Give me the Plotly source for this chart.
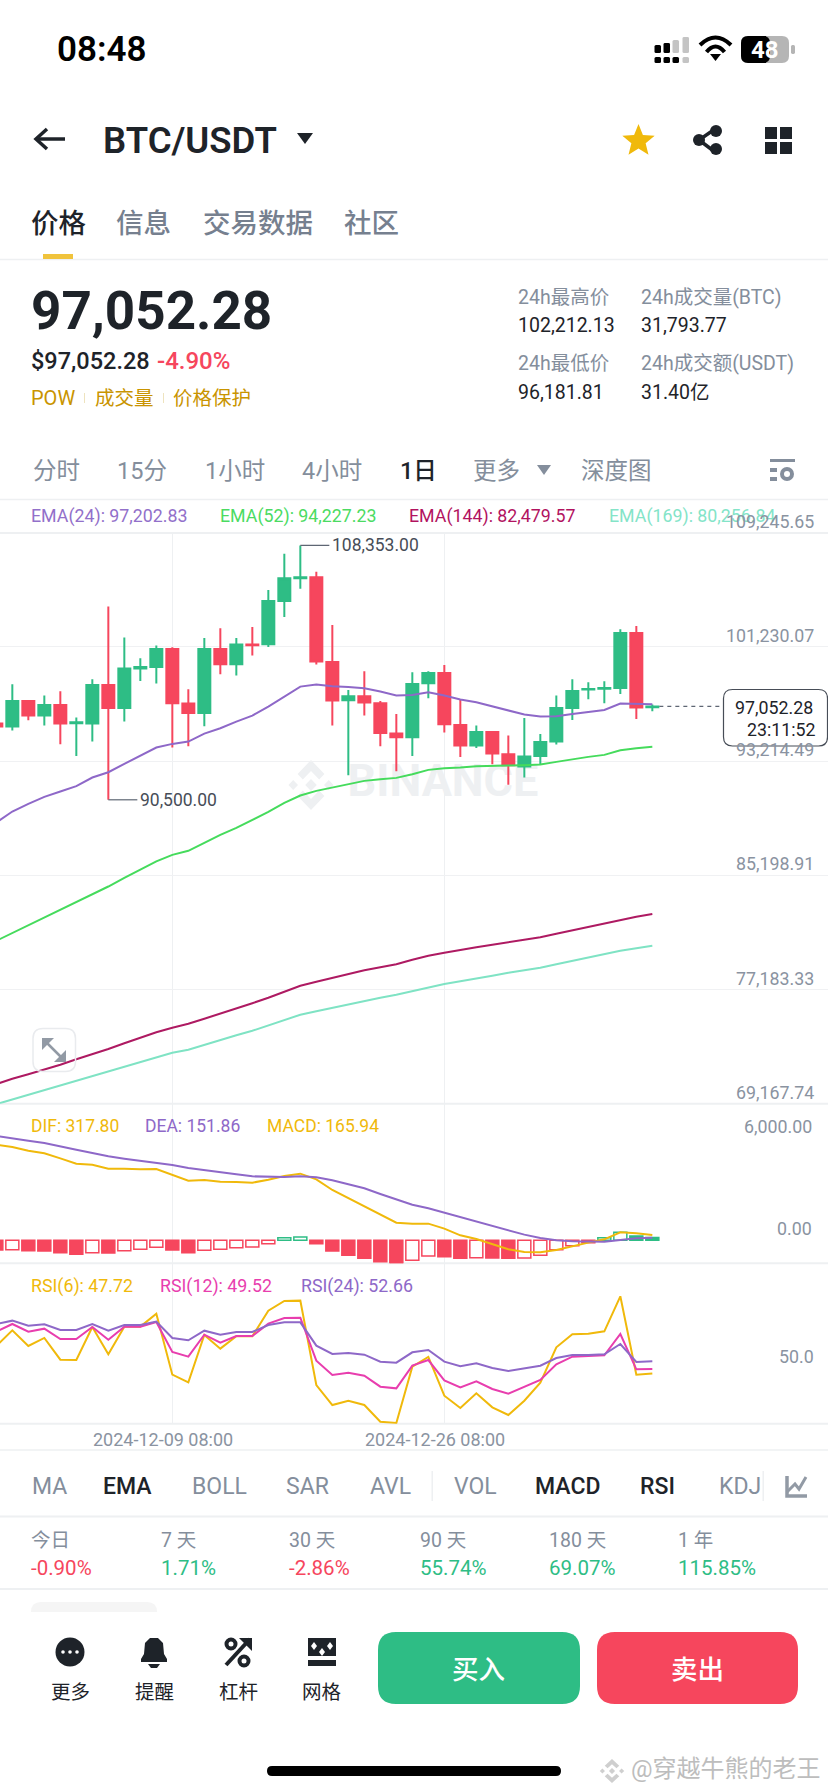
import math

import pandas as pd
import plotly.graph_objects as go

W = 828
H = 1792
FONT = "Roboto, 'Noto Sans CJK SC'"
DARK = "#1E2329"
GRAY = "#848E9C"
UP = "#2EBD85"
DOWN = "#F6465D"
YELLOW = "#F0B90B"
PURPLE = "#8E68C8"
LINE = "#EEF0F2"

dates = pd.date_range("2024-11-28 08:00", periods=42, freq="D")

opens = [95851, 95641, 97441, 96412, 97161, 95875, 95851, 98564, 96950, 99710, 99827,
         101090, 97254, 96600, 101090, 100014, 101394, 101417, 104457, 106047, 106118, 100178,
         97488, 97769, 97278, 95150, 94892, 98681, 99406, 95758, 94308, 95267, 93700,
         92834, 93583, 94588, 96950, 98240, 98300, 98354, 102212, 97000]
highs = [96000, 98611, 97441, 97816, 98120, 96272, 98962, 104060, 101885, 100435, 101324,
         101207, 98260, 101861, 102540, 101861, 102633, 105229, 107778, 108353, 106515, 102773,
         98213, 99523, 97441, 96529, 99453, 99523, 99967, 97558, 95711, 95313, 95009,
         96249, 95126, 97816, 98962, 98751, 98821, 102469, 102703, 97184]
lows = [95500, 95360, 96085, 95711, 94401, 93583, 94588, 90500, 95992, 98845, 98658,
        94167, 94261, 95664, 99312, 99219, 100622, 101230, 103335, 105323, 99991, 95711,
        92226, 96412, 94261, 92507, 93583, 97629, 95220, 93513, 94144, 92998, 91548,
        92063, 92975, 94378, 96108, 97558, 97278, 97933, 96179, 96717]
closes = [95641, 97441, 96412, 97161, 95851, 95945, 98564, 96950, 99710, 99827, 101090,
          97278, 96600, 101090, 100014, 101394, 101346, 104457, 106047, 106118, 100201, 97465,
          97769, 97325, 95196, 94892, 98634, 99406, 95804, 94308, 95267, 93746, 92928,
          93536, 94565, 96950, 98143, 98280, 98354, 102212, 96974, 97052.28]

ema24 = [88906, 89677, 90215, 90706, 91080, 91455, 92063, 92437, 93022, 93583, 94167,
         94425, 94588, 95150, 95524, 95992, 96412, 97044, 97769, 98447, 98587, 98470,
         98424, 98330, 98096, 97816, 97862, 98050, 97816, 97535, 97348, 97044, 96740,
         96483, 96342, 96366, 96529, 96693, 96810, 97254, 97231, 97202.83]
ema52 = [80604, 81144, 81691, 82231, 82778, 83319, 83866, 84413, 85024, 85585, 86181,
         86637, 86918, 87479, 88040, 88531, 89093, 89654, 90285, 90798, 91127, 91359,
         91569, 91829, 91948, 92039, 92299, 92601, 92720, 92762, 92860, 92902, 92902,
         92930, 92972, 93162, 93351, 93513, 93653, 93983, 94123, 94227.23]
ema144 = [70543, 70922, 71237, 71553, 71904, 72290, 72641, 73005, 73412, 73798, 74184,
          74500, 74780, 75131, 75482, 75833, 76219, 76605, 77025, 77446, 77727, 78008,
          78253, 78534, 78744, 78955, 79271, 79551, 79762, 79972, 80148, 80323, 80498,
          80674, 80849, 81095, 81340, 81586, 81831, 82077, 82287, 82479.57]
ema169 = [69133, 69462, 69799, 70115, 70431, 70781, 71097, 71413, 71764, 72114, 72430,
          72746, 72956, 73307, 73623, 73974, 74289, 74675, 75061, 75412, 75657, 75903,
          76149, 76394, 76605, 76815, 77061, 77341, 77566, 77762, 77938, 78148, 78358,
          78534, 78709, 78955, 79200, 79446, 79656, 79902, 80077, 80256.84]

dif = [5591, 5454, 5240, 5084, 4792, 4480, 4422, 4188, 4188, 4149, 4169,
       3838, 3487, 3526, 3428, 3409, 3370, 3545, 3760, 3896, 3565, 2941,
       2454, 2006, 1480, 1032, 974, 974, 682, 292, 78, -214, -526,
       -682, -701, -565, -331, -136, 58, 468, 409, 317.80]
dea = [6097, 5941, 5825, 5688, 5513, 5299, 5104, 4909, 4773, 4656, 4558,
       4402, 4227, 4091, 3954, 3857, 3740, 3701, 3701, 3740, 3682, 3506,
       3292, 3039, 2708, 2396, 2084, 1870, 1617, 1364, 1110, 838, 584,
       331, 136, 0, -58, -78, -78, 19, 117, 151.86]
macd = [-565, -545, -604, -623, -721, -818, -721, -740, -604, -526, -409,
        -565, -721, -584, -526, -429, -390, -195, 156, 195, -195, -623,
        -877, -1052, -1247, -1383, -1169, -916, -955, -1052, -1013, -1032, -1052,
        -1032, -877, -545, -312, -136, 156, 468, 253, 165.94]

rsi6 = [58.98, 65.43, 58.98, 62.28, 53.36, 53.22, 66.8, 55.56, 66.94, 66.94, 72.29,
        47.19, 44.03, 63.51, 57.89, 62.96, 62.96, 73.53, 77.5, 77.64, 42.94, 34.71,
        36.49, 34.71, 27.85, 27.3, 50.48, 54.46, 38.55, 33.47, 39.51, 33.74, 30.59,
        36.49, 43.9, 58.44, 63.79, 64.06, 65.02, 79.42, 47.19, 47.72]
rsi12 = [64.88, 68.04, 64.88, 66.12, 61.87, 61.87, 66.8, 61.59, 66.94, 66.94, 68.86,
         56.52, 54.6, 63.65, 60.36, 63.1, 63.1, 68.18, 70.51, 70.64, 52.95, 47.05,
         48.01, 46.78, 42.25, 41.56, 50.89, 53.22, 44.86, 41.98, 44.44, 41.29, 39.37,
         42.11, 44.99, 51.44, 54.6, 54.87, 55.14, 63.92, 49.38, 49.52]
rsi24 = [68.04, 69.41, 67.35, 67.9, 65.57, 65.57, 68.04, 65.29, 67.63, 67.63, 69.0,
         62.28, 61.32, 65.29, 63.65, 64.75, 64.75, 67.63, 68.72, 68.72, 59.12, 55.69,
         56.1, 55.42, 52.54, 52.13, 56.38, 57.34, 52.54, 50.62, 51.85, 49.93, 48.7,
         49.79, 50.89, 54.05, 55.28, 55.28, 55.56, 59.81, 52.4, 52.66]

price_ticks = [109245.65, 101230.07, 93214.49, 85198.91, 77183.33, 69167.74]
macd_ticks = [6000, 0]
rsi_ticks = [50]
period_names = ["今日", "7 天", "30 天", "90 天", "180 天", "1 年"]
period_values = [-0.90, 1.71, -2.86, 55.74, 69.07, 115.85]
period_x = [31, 161, 289, 420, 549, 678]


def fx(x):
    return x / W


def fy(y):
    return 1 - y / H


annotations = []
shapes = []


def txt(s, x, y, size, color=DARK, anchor="left", weight=400):
    annotations.append(dict(
        text=s, xref="paper", yref="paper", x=fx(x), y=fy(y),
        xanchor=anchor, yanchor="middle", showarrow=False, borderpad=0, borderwidth=0,
        font=dict(family=FONT, size=size, color=color, weight=weight),
    ))


def poly(points, close=True):
    d = "M" + " L".join(f"{fx(x):.5f},{fy(y):.5f}" for x, y in points)
    return d + (" Z" if close else "")


def fill_shape(d, color, layer="above"):
    shapes.append(dict(type="path", path=d, xref="paper", yref="paper", fillcolor=color,
                       line=dict(width=0), layer=layer))


def stroke_shape(d, color, width):
    shapes.append(dict(type="path", path=d, xref="paper", yref="paper",
                       line=dict(color=color, width=width)))


def rect(x0, y0, x1, y1, color, layer="above"):
    shapes.append(dict(type="rect", xref="paper", yref="paper", x0=fx(x0), x1=fx(x1),
                       y0=fy(y0), y1=fy(y1), fillcolor=color, line=dict(width=0), layer=layer))


def hline(y, x0=0, x1=W, color=LINE, width=1.5):
    shapes.append(dict(type="line", xref="paper", yref="paper", x0=fx(x0), x1=fx(x1),
                       y0=fy(y), y1=fy(y), line=dict(color=color, width=width), layer="below"))


def round_path(x0, y0, x1, y1, r):
    p = lambda x, y: f"{fx(x):.5f},{fy(y):.5f}"
    return (f"M{p(x0 + r, y0)} L{p(x1 - r, y0)} Q{p(x1, y0)} {p(x1, y0 + r)} "
            f"L{p(x1, y1 - r)} Q{p(x1, y1)} {p(x1 - r, y1)} L{p(x0 + r, y1)} "
            f"Q{p(x0, y1)} {p(x0, y1 - r)} L{p(x0, y0 + r)} Q{p(x0, y0)} {p(x0 + r, y0)} Z")


def circle(cx, cy, r, color):
    shapes.append(dict(type="circle", xref="paper", yref="paper", x0=fx(cx - r), x1=fx(cx + r),
                       y0=fy(cy - r), y1=fy(cy + r), fillcolor=color, line=dict(width=0)))


def binance_logo(cx, cy, rx, ry, color, layer="below"):
    def pts(items):
        return [(cx + a * rx, cy + b * ry) for a, b in items]
    top = [(0, -1), (.56, -.44), (.34, -.22), (0, -.56), (-.34, -.22), (-.56, -.44)]
    fill_shape(poly(pts(top)), color, layer)
    fill_shape(poly(pts([(a, -b) for a, b in top])), color, layer)
    for c, s in ((0, .24), (-.74, .2), (.74, .2)):
        fill_shape(poly(pts([(c, -s), (c + s, 0), (c, s), (c - s, 0)])), color, layer)


# status bar
txt("08:48", 57, 49, 35, "#000000", weight=600)
for x0, top, col in ((655, 45, "#000"), (664, 43, "#000"), (673, 40, "#C4C4C4"), (683, 37, "#C4C4C4")):
    fill_shape(round_path(x0 - .5, top, x0 + 6, 53, 1.5), col)
    fill_shape(round_path(x0 - .5, 57, x0 + 6, 63, 1.5), "#C4C4C4" if x0 == 683 else "#000")
for px0, py0, px1, pc in ((700, 45, 731, 30), (706.5, 52, 724.5, 41)):
    stroke_shape(f"M{fx(px0)},{fy(py0)} Q{fx(715.5)},{fy(pc)} {fx(px1)},{fy(py0)}", "#000", 4)
fill_shape(poly([(710, 54), (721, 54), (715.5, 61)]), "#000")
fill_shape(round_path(741, 36, 789, 63, 7), "#B5B5B5")
fill_shape(round_path(741, 36, 770, 63, 7), "#000")
rect(760, 36, 766, 63, "#000")
fill_shape(round_path(791, 45, 795, 54, 1.5), "#B5B5B5")
txt("48", 765, 50, 24, "#FFFFFF", "center", 700)

# header
stroke_shape(poly([(65, 139), (37, 139)], False), DARK, 3.5)
stroke_shape(poly([(47, 129), (36, 139), (47, 149)], False), DARK, 3.5)
txt("BTC/USDT", 103, 140, 36.5, DARK, weight=600)
fill_shape(poly([(297, 133), (313, 133), (305, 144)]), DARK)
star = []
for k in range(10):
    r = 17 if k % 2 == 0 else 7.5
    a = -math.pi / 2 + k * math.pi / 5
    star.append((638.5 + r * math.cos(a), 141 + r * math.sin(a)))
fill_shape(poly(star), YELLOW)
stroke_shape(poly([(715, 129), (699, 140), (715, 152)], False), DARK, 3.5)
circle(716, 131, 6, DARK)
circle(699, 140, 6, DARK)
circle(716, 149, 6, DARK)
for x0, y0 in ((765, 127), (780, 127), (765, 142), (780, 142)):
    rect(x0, y0, x0 + 12, y0 + 12, DARK)

# tabs
txt("价格", 31, 223, 27.5, DARK, weight=500)
txt("信息", 116, 223, 27.5, "#76808F", weight=500)
txt("交易数据", 203, 223, 27.5, "#76808F", weight=500)
txt("社区", 344, 223, 27.5, "#76808F", weight=500)
rect(43, 254, 73, 259, "#F0C33C")
hline(259.5)

# price block
txt("97,052.28", 31, 311, 53, DARK, weight=700)
txt("$97,052.28", 31, 361, 23.5, DARK, weight=500)
txt("-4.90%", 157, 361, 24, DOWN, weight=500)
txt("POW", 31, 398, 20, "#C99400")
txt("成交量", 95, 398, 19.5, "#C99400")
txt("价格保护", 173, 398, 19.5, "#C99400")
rect(84, 393, 85, 403, "#EEE3BE")
rect(163, 393, 164, 403, "#EEE3BE")
txt("24h最高价", 518, 298, 19.5, GRAY)
txt("24h成交量(BTC)", 641, 298, 19.5, GRAY)
txt("102,212.13", 518, 326, 19.5, DARK)
txt("31,793.77", 641, 326, 19.5, DARK)
txt("24h最低价", 518, 363, 19.5, GRAY)
txt("24h成交额(USDT)", 641, 363, 19.5, GRAY)
txt("96,181.81", 518, 392, 19.5, DARK)
txt("31.40亿", 641, 392, 19.5, DARK)

# timeframe row
for label, x0, col in (("分时", 33, GRAY), ("15分", 117, GRAY), ("1小时", 205, GRAY), ("4小时", 302, GRAY),
                       ("1日", 400, DARK), ("更多", 473, GRAY), ("深度图", 581, GRAY)):
    txt(label, x0, 471, 23.5, col, weight=500 if col == DARK else 400)
fill_shape(poly([(537, 465), (551, 465), (544, 475)]), GRAY)
rect(770, 459, 795, 462, GRAY)
rect(770, 468, 777, 472, GRAY)
rect(770, 477, 777, 481, GRAY)
circle(787, 474, 7, GRAY)
circle(787, 474, 3, "#FFFFFF")
hline(499.5)

# chart legends
txt("EMA(24): 97,202.83", 30.5, 515.5, 17.8, "#9270CA")
txt("EMA(52): 94,227.23", 220, 515.5, 17.8, "#4BDB62")
txt("EMA(144): 82,479.57", 409, 515.5, 17.8, "#B2135F")
txt("EMA(169): 80,256.84", 609, 515.5, 17.8, "#84E4C8")
txt("DIF: 317.80", 30.5, 1125.5, 17.5, YELLOW)
txt("DEA: 151.86", 145, 1125.5, 17.5, PURPLE)
txt("MACD: 165.94", 266.5, 1125.5, 17.5, YELLOW)
txt("RSI(6): 47.72", 30.5, 1285.5, 17.8, YELLOW)
txt("RSI(12): 49.52", 160, 1285.5, 17.8, "#E83EAE")
txt("RSI(24): 52.66", 300.5, 1285.5, 17.8, PURPLE)

# pane separators
hline(533, width=2)
hline(1103.7, width=2)
hline(1263.3, width=2)
hline(1423.7, width=2)

# watermark logo sits under every pane
binance_logo(311, 785, 24, 25, "#EEF0F2")

# expand button
stroke_shape(round_path(33, 1028.5, 75.5, 1071.5, 10), "#E9EBEE", 1.5)
fill_shape(poly([(42, 1038), (54, 1038), (42, 1050)]), "#929AA5")
fill_shape(poly([(66, 1062), (54, 1062), (66, 1050)]), "#929AA5")
stroke_shape(poly([(46, 1042), (62, 1058)], False), "#929AA5", 2.5)

# axis value labels, tied to the pane scales
for v in price_ticks:
    annotations.append(dict(text=f"{v:,.2f}", xref="paper", x=fx(815), yref="y2", y=v,
                            xanchor="right", yanchor="bottom", showarrow=False, borderpad=0,
                            font=dict(family=FONT, size=17.8, color="#8A93A1")))
for v in macd_ticks:
    annotations.append(dict(text=f"{v:,.2f}", xref="paper", x=fx(813), yref="y3", y=v,
                            xanchor="right", yanchor="bottom", showarrow=False, borderpad=0,
                            font=dict(family=FONT, size=17.8, color="#8A93A1")))
for v in rsi_ticks:
    annotations.append(dict(text=f"{v:.1f}", xref="paper", x=fx(815), yref="y4", y=v,
                            xanchor="right", yanchor="bottom", showarrow=False, borderpad=0,
                            font=dict(family=FONT, size=17.8, color="#8A93A1")))

# date labels
for k in (11, 28):
    annotations.append(dict(text=dates[k].strftime("%Y-%m-%d %H:%M"), xref="x4", x=dates[k], yref="paper",
                            y=fy(1439.5), xanchor="center", yanchor="middle", xshift=-9, showarrow=False,
                            font=dict(family=FONT, size=18, color="#8A93A1")))

# high / low callouts
i_hi = highs.index(max(highs))
i_lo = lows.index(min(lows))
for i, val, length in ((i_hi, highs[i_hi], 29), (i_lo, lows[i_lo], 29)):
    shapes.append(dict(type="line", xref="x2", yref="y2", xsizemode="pixel", xanchor=dates[i],
                       x0=0, x1=length, y0=val, y1=val, line=dict(color="#5E6673", width=1.2)))
    annotations.append(dict(text=f"{val:,.2f}", xref="x2", x=dates[i], yref="y2", y=val,
                            xanchor="left", yanchor="middle", xshift=length + 1, showarrow=False,
                            font=dict(family=FONT, size=17.5, color="#474D57")))

# last price tag
shapes.append(dict(type="line", xref="x2", yref="y2", xsizemode="pixel", xanchor=dates[-1],
                   x0=7, x1=68, y0=closes[-1], y1=closes[-1],
                   line=dict(color="#5E6673", width=1.2, dash="4px,4px")))
shapes.append(dict(type="path", path=round_path(723.5, 689.5, 827.5, 746, 9), xref="paper", yref="paper",
                   fillcolor="#FFFFFF", line=dict(color="#474D57", width=1.2)))
txt(f"{closes[-1]:,.2f}", 813, 707.5, 17.8, DARK, "right")
txt("23:11:52", 816, 729, 17.8, DARK, "right")

# indicator row
for label, x0, col in (("MA", 32, GRAY), ("EMA", 103, DARK), ("BOLL", 192, GRAY), ("SAR", 286, GRAY),
                       ("AVL", 370, GRAY), ("VOL", 454, GRAY), ("MACD", 535, DARK), ("RSI", 640, DARK),
                       ("KDJ", 719, GRAY)):
    txt(label, x0, 1486.5, 23, col, weight=500 if col == DARK else 400)
rect(431.5, 1471, 433, 1501, LINE)
rect(762.5, 1471, 764, 1501, LINE)
stroke_shape(poly([(787, 1476), (787, 1496), (807, 1496)], False), "#929AA5", 3.5)
stroke_shape(poly([(787, 1492), (795, 1484), (799, 1489), (806, 1477)], False), "#929AA5", 3)
hline(1450)
hline(1516.5, width=2)

# period performance
for name, value, x0 in zip(period_names, period_values, period_x):
    txt(name, x0, 1540, 19.5, GRAY)
    txt(f"{value:.2f}%", x0, 1568, 20.5, UP if value > 0 else DOWN)
hline(1589, width=2)
fill_shape(round_path(31, 1602, 157, 1630, 10), "#F5F5F5")
rect(0, 1612, W, 1792, "#FFFFFF")

# bottom bar
circle(70, 1652, 14.5, DARK)
for dx in (-7, 0, 7):
    circle(70 + dx, 1652, 1.8, "#FFFFFF")
fill_shape(poly([(141, 1659), (144, 1654), (145, 1643), (150, 1638), (158, 1638), (163, 1643), (164, 1654),
                 (167, 1659), (167, 1662), (141, 1662)]), DARK)
fill_shape(poly([(148, 1664), (160, 1664), (157, 1668), (151, 1668)]), DARK)
stroke_shape(poly([(226, 1665), (250, 1639)], False), DARK, 4)
fill_shape(poly([(239, 1638), (252, 1638), (252, 1651)]), DARK)
for cx, cy in ((231, 1644), (244, 1661)):
    circle(cx, cy, 6.5, DARK)
    circle(cx, cy, 2.5, "#FFFFFF")
fill_shape(poly([(308, 1638), (336, 1638), (336, 1656), (308, 1656)]), DARK)
for cx, cy in ((314, 1646), (322, 1652), (330, 1646)):
    fill_shape(poly([(cx, cy - 4), (cx + 3, cy), (cx, cy + 4), (cx - 3, cy)]), "#FFFFFF")
rect(308, 1660, 336, 1666, DARK)
txt("更多", 70, 1692.5, 19.5, DARK, "center")
txt("提醒", 154, 1692.5, 19.5, DARK, "center")
txt("杠杆", 238, 1692.5, 19.5, DARK, "center")
txt("网格", 322, 1692.5, 19.5, DARK, "center")
fill_shape(round_path(378, 1632, 580, 1704, 18), UP)
fill_shape(round_path(597, 1632, 798, 1704, 18), DOWN)
txt("买入", 478, 1669, 26.5, "#FFFFFF", "center", 500)
txt("卖出", 697, 1669, 26.5, "#FFFFFF", "center", 500)
fill_shape(round_path(267, 1766, 561, 1776, 5), "#000000")
binance_logo(612, 1771, 13, 12, "#CFCFCF", "above")
txt("@穿越牛熊的老王", 631, 1769, 24, "#BDBDBD")

fig = go.Figure()

# watermark lives on the first (hidden) subplot so the panes draw over it
fig.add_trace(go.Scatter(x=[443], y=[785], mode="text", text=["BINANCE"], xaxis="x", yaxis="y",
                         textfont=dict(family=FONT, size=45, color="#EEF0F2", weight=700),
                         showlegend=False, hoverinfo="skip"))

fig.add_trace(go.Candlestick(
    x=dates, open=opens, high=highs, low=lows, close=closes, xaxis="x2", yaxis="y2",
    increasing=dict(line=dict(color=UP, width=2), fillcolor=UP),
    decreasing=dict(line=dict(color=DOWN, width=2), fillcolor=DOWN),
    whiskerwidth=0, showlegend=False,
))
for values, color in ((ema24, "#8E68C8"), (ema52, "#45DB5C"), (ema144, "#AE1A62"), (ema169, "#7FE3C4")):
    fig.add_trace(go.Scatter(x=dates, y=values, mode="lines", xaxis="x2", yaxis="y2",
                             line=dict(color=color, width=2), showlegend=False))

bar_line = [UP if v > 0 else DOWN for v in macd]
bar_fill = [c if i == 0 or macd[i] <= macd[i - 1] else "#FFFFFF" for i, c in enumerate(bar_line)]
fig.add_trace(go.Bar(x=dates, y=macd, xaxis="x3", yaxis="y3", width=13 / 16 * 86400000,
                     marker=dict(color=bar_fill, line=dict(color=bar_line, width=1.5)), showlegend=False))
fig.add_trace(go.Scatter(x=dates, y=dif, mode="lines", xaxis="x3", yaxis="y3",
                         line=dict(color=YELLOW, width=2), showlegend=False))
fig.add_trace(go.Scatter(x=dates, y=dea, mode="lines", xaxis="x3", yaxis="y3",
                         line=dict(color=PURPLE, width=2), showlegend=False))

for values, color in ((rsi6, YELLOW), (rsi12, "#E83EAE"), (rsi24, PURPLE)):
    fig.add_trace(go.Scatter(x=dates, y=values, mode="lines", xaxis="x4", yaxis="y4",
                             line=dict(color=color, width=2), showlegend=False))

# first candle after the partly hidden one sits 12.33px in, one day is 16px
start = dates[1] - pd.Timedelta(days=12.33 / 16)
end = dates[1] + pd.Timedelta(days=(W - 12.33) / 16)
grid_x = [dates[11], dates[28]]
x_common = dict(range=[start, end], type="date", showticklabels=False, ticks="", showline=False,
                zeroline=False, tickmode="array", tickvals=grid_x, showgrid=True, gridcolor="#EEF0F2",
                gridwidth=1, rangeslider=dict(visible=False), domain=[0, 1])
y_common = dict(showticklabels=False, ticks="", showline=False, zeroline=False)

fig.update_layout(
    width=W, height=H, margin=dict(l=0, r=0, t=0, b=0), autosize=False,
    paper_bgcolor="#FFFFFF", plot_bgcolor="rgba(0,0,0,0)",
    boxgap=0.25, boxgroupgap=0, boxmode="overlay", barmode="overlay",
    font=dict(family=FONT), showlegend=False, hovermode=False,
    annotations=annotations, shapes=shapes,
    xaxis=dict(range=[0, W], visible=False, domain=[0, 1], anchor="y"),
    yaxis=dict(range=[H, 0], visible=False, domain=[0, 1], anchor="x"),
    xaxis2=dict(anchor="y2", **x_common),
    yaxis2=dict(anchor="x2", domain=[fy(1103.7), fy(532.75)], range=[price_ticks[-1], price_ticks[0]],
                tickmode="array", tickvals=price_ticks, showgrid=True, gridcolor="#F0F1F3", gridwidth=1.3,
                **y_common),
    xaxis3=dict(anchor="y3", **x_common),
    yaxis3=dict(anchor="x3", domain=[fy(1263.3), fy(1103.7)], range=[-1344, 7987], showgrid=False, **y_common),
    xaxis4=dict(anchor="y4", **x_common),
    yaxis4=dict(anchor="x4", domain=[fy(1423.7), fy(1263.3)], range=[27.02, 93], showgrid=False, **y_common),
)

fig.write_html("out.html", config=dict(displayModeBar=False),
               post_script="document.body.style.margin='0';document.body.style.overflow='hidden';")
